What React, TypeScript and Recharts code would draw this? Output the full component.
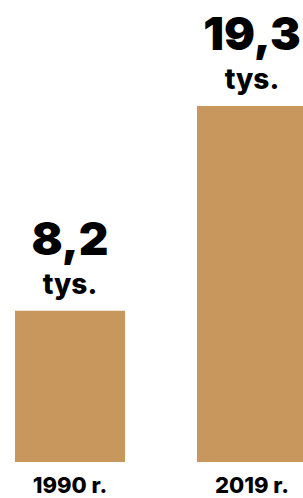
import React from "react";
import { BarChart, Bar, XAxis, YAxis, LabelList } from "recharts";

const years = ["1990 r.", "2019 r."];
const values = [8.2, 19.3];
const unit = "tys.";

const data = years.map((year, i) => ({ year, value: values[i] }));

const FONT = "Inter, 'Noto Sans', sans-serif";

const ValueLabel = (props: any) => {
  const { x, y, width, value } = props;
  const cx = x + width / 2;
  return (
    <g>
      <text x={cx} y={y - 56} textAnchor="middle" fontFamily={FONT} fontWeight={900} fontSize={46} fill="#000">
        {String(value).replace(".", ",")}
      </text>
      <text x={cx} y={y - 17} textAnchor="middle" fontFamily={FONT} fontWeight={800} fontSize={28} fill="#000">
        {unit}
      </text>
    </g>
  );
};

const YearTick = (props: any) => {
  const { x, y, payload } = props;
  return (
    <text x={x} y={y + 31} textAnchor="middle" fontFamily={FONT} fontWeight={800} fontSize={22} fill="#000">
      {payload.value}
    </text>
  );
};

export default function App() {
  return (
    <div style={{ position: "absolute", left: 0, top: 0, width: 303, height: 498, overflow: "hidden", background: "#fff" }}>
      <div style={{ position: "absolute", left: -21, top: 0 }}>
        <BarChart width={364} height={498} data={data} margin={{ top: 106, right: 0, bottom: 0, left: 0 }} barCategoryGap={0}>
          <YAxis hide domain={[0, 19.3]} />
          <XAxis dataKey="year" height={36} axisLine={false} tickLine={false} tickSize={0} tickMargin={0} tick={<YearTick />} interval={0} />
          <Bar dataKey="value" fill="#C8975E" barSize={110} isAnimationActive={false}>
            <LabelList dataKey="value" content={<ValueLabel />} />
          </Bar>
        </BarChart>
      </div>
    </div>
  );
}
